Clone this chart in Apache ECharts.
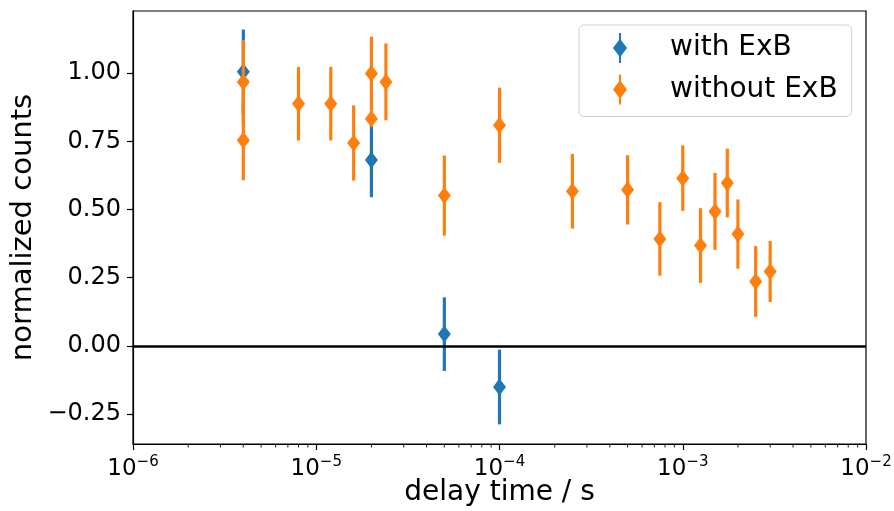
<!DOCTYPE html>
<html>
<head>
<meta charset="utf-8">
<script src="https://cdn.jsdelivr.net/npm/echarts@6/dist/echarts.min.js"></script>
<style>html,body{margin:0;padding:0;background:#fff;}#c{width:894px;height:511px;}</style>
</head>
<body>
<div id="c"></div>
<script>
// ---- data ----
const blueX   = [4e-6, 2e-5, 5e-5, 1e-4];
const blueY   = [1.005, 0.682, 0.043, -0.151];
const blueErr = [0.155, 0.137, 0.135, 0.137];

const orangeX   = [4e-6, 4e-6, 8e-6, 1.2e-5, 1.6e-5, 2e-5, 2e-5, 2.4e-5, 5e-5, 1e-4, 2.5e-4, 5e-4, 7.5e-4, 1e-3, 1.25e-3, 1.5e-3, 1.75e-3, 2e-3, 2.5e-3, 3e-3];
const orangeY   = [0.968, 0.754, 0.888, 0.888, 0.744, 0.999, 0.833, 0.968, 0.551, 0.809, 0.567, 0.572, 0.392, 0.615, 0.368, 0.493, 0.597, 0.410, 0.236, 0.273];
const orangeErr = [0.153, 0.147, 0.135, 0.135, 0.138, 0.135, 0.03, 0.141, 0.147, 0.138, 0.137, 0.127, 0.135, 0.120, 0.137, 0.141, 0.126, 0.127, 0.130, 0.112];

const yTicks = [-0.25, 0, 0.25, 0.5, 0.75, 1.0];
const seriesNames = ['with ExB', 'without ExB'];

const BLUE = '#1f77b4', ORANGE = '#ff7f0e';
const FONT = 'DejaVu Sans';
const yMin = -0.36, yMax = 1.228;

const minorTicks = [];
for (let d = -6; d < -2; d++) for (let k = 2; k <= 9; k++) minorTicks.push([k * Math.pow(10, d)]);

function pts(xs, ys, es) { return xs.map((x, i) => [x, ys[i], es[i]]); }

function errRender(color) {
  return function (params, api) {
    const x = api.value(0), y = api.value(1), e = api.value(2);
    const p1 = api.coord([x, y + e]);
    const p2 = api.coord([x, y - e]);
    return { type: 'line', shape: { x1: p1[0], y1: p1[1], x2: p2[0], y2: p2[1] },
             style: { stroke: color, lineWidth: 3.2 } };
  };
}

const legendIcon = 'path://M6,0 L8,0 L8,7 L14,15 L8,23 L8,30 L6,30 L6,23 L0,15 L6,7 Z';

const chart = echarts.init(document.getElementById('c'), null, { renderer: 'canvas' });
chart.setOption({
  animation: false,
  backgroundColor: '#fff',
  textStyle: { fontFamily: FONT },
  grid: { left: 133, right: 28, top: 11, bottom: 67, show: true, borderColor: '#000', borderWidth: 1.2,
          backgroundColor: 'transparent', outerBoundsMode: 'none', containLabel: false },
  legend: {
    orient: 'vertical', left: 579, top: 25,
    padding: [8, 14, 12, 34], itemGap: 11.5,
    itemWidth: 14, itemHeight: 30,
    backgroundColor: '#fff', borderColor: '#d0d0d0', borderWidth: 1, borderRadius: 5,
    textStyle: { fontFamily: FONT, fontSize: 28, color: '#000', padding: [0, 0, 0, 38] },
    data: [
      { name: seriesNames[0], icon: legendIcon, itemStyle: { color: BLUE } },
      { name: seriesNames[1], icon: legendIcon, itemStyle: { color: ORANGE } }
    ]
  },
  xAxis: {
    type: 'log', logBase: 10, min: 1e-6, max: 1e-2, splitNumber: 4,
    name: 'delay time / s', nameLocation: 'middle', nameGap: 35, nameMoveOverlap: false,
    nameTextStyle: { fontFamily: FONT, fontSize: 28, color: '#000' },
    axisLine: { show: true, onZero: false, lineStyle: { color: '#000', width: 1.2 } },
    axisTick: { show: true, length: 6, inside: false, lineStyle: { color: '#000', width: 1.2 } },
    splitLine: { show: false },
    axisLabel: {
      margin: 6, color: '#000', fontFamily: FONT,
      formatter: function (v) {
        const e = Math.round(Math.log10(v));
        return '{b|10}{s|' + (e < 0 ? '\u2212' : '') + Math.abs(e) + '}';
      },
      rich: {
        b: { fontSize: 23, fontFamily: FONT, color: '#000', padding: [8, 0, 0, 0] },
        s: { fontSize: 15, fontFamily: FONT, color: '#000', padding: [0, 0, 6, 0] }
      }
    }
  },
  yAxis: {
    type: 'value', min: yMin, max: yMax,
    name: 'normalized counts', nameLocation: 'middle', nameGap: 95, nameRotate: 90, nameMoveOverlap: false,
    nameTextStyle: { fontFamily: FONT, fontSize: 29, color: '#000' },
    axisLine: { show: true, onZero: false, lineStyle: { color: '#000', width: 1.2 } },
    axisTick: { show: true, length: 6, inside: false, customValues: yTicks, lineStyle: { color: '#000', width: 1.2 } },
    splitLine: { show: false },
    axisLabel: {
      margin: 12, fontSize: 24, color: '#000', fontFamily: FONT, customValues: yTicks,
      formatter: function (v) { return (v < 0 ? '\u2212' : '') + Math.abs(v).toFixed(2); }
    }
  },
  series: [
    {
      type: 'custom', name: 'minor', silent: true, clip: false,
      data: minorTicks,
      renderItem: function (params, api) {
        const p = api.coord([api.value(0), yMin]);
        return { type: 'line', shape: { x1: p[0], y1: p[1], x2: p[0], y2: p[1] + 3.5 },
                 style: { stroke: '#000', lineWidth: 0.9 } };
      },
      z: 1
    },
    { type: 'custom', name: seriesNames[0], data: pts(blueX, blueY, blueErr), renderItem: errRender(BLUE),
      itemStyle: { color: BLUE }, encode: { x: 0, y: 1 }, z: 2, silent: true },
    { type: 'scatter', name: seriesNames[0], data: pts(blueX, blueY, blueErr), symbol: 'diamond', symbolSize: [13, 17],
      itemStyle: { color: BLUE, opacity: 1 }, z: 3, silent: true },
    { type: 'custom', name: seriesNames[1], data: pts(orangeX, orangeY, orangeErr), renderItem: errRender(ORANGE),
      itemStyle: { color: ORANGE }, encode: { x: 0, y: 1 }, z: 4, silent: true },
    { type: 'scatter', name: seriesNames[1], data: pts(orangeX, orangeY, orangeErr), symbol: 'diamond', symbolSize: [13, 17],
      itemStyle: { color: ORANGE, opacity: 1 }, z: 5, silent: true },
    {
      type: 'line', name: 'zero', data: [], silent: true, z: 6,
      markLine: { silent: true, symbol: ['none', 'none'], label: { show: false },
        lineStyle: { color: '#000', width: 2.6, type: 'solid' }, data: [{ yAxis: 0 }] }
    }
  ]
});
</script>
</body>
</html>
